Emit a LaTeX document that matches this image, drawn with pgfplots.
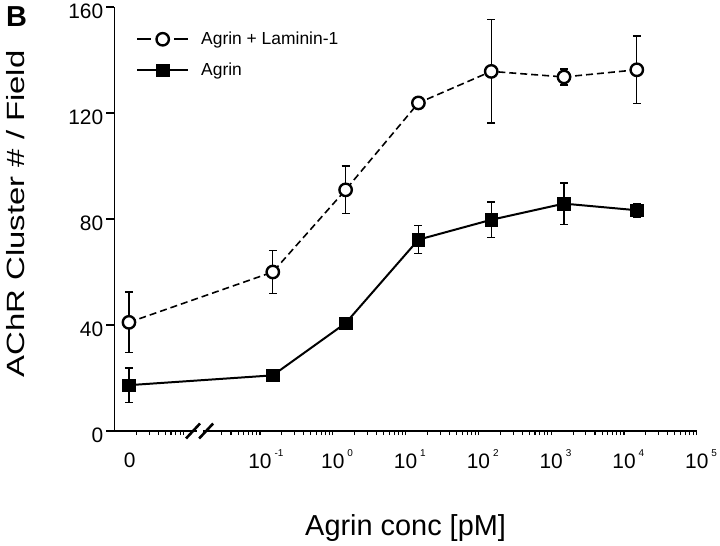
\documentclass[border=0pt]{standalone}
\usepackage{pgfplots}
\pgfplotsset{compat=1.18}
\usepackage{pgfplotstable}
\usepackage{fontspec}
\setmainfont{Liberation Sans}
\newfontfamily\widefont[FakeStretch=1.32]{Liberation Sans}
\newcommand{\tickfont}{\fontsize{21}{21}\selectfont}
\newcommand{\dec}[1]{\tickfont 10\rlap{\hspace{3bp}\raisebox{11.5bp}{\fontsize{10}{10}\selectfont #1}}}

\pgfplotsset{
  dashlegend/.style={legend image code/.code={\draw[mark repeat=2,mark phase=2,##1, dash pattern=on 14bp off 23bp] plot coordinates {(0bp,0bp) (25.5bp,0bp) (51bp,0bp)};}},
  solidlegend/.style={legend image code/.code={\draw[mark repeat=2,mark phase=2,##1] plot coordinates {(0bp,0bp) (25.5bp,0bp) (51bp,0bp)};}},
}

% x = log10(concentration in pM); the "0" concentration is drawn at -2.8
\pgfplotstableread{
x       y      e
-2.8    41.0   11.5
-0.824  60.0   8.0
0.176   91.0   9.0
1.176   123.8  1.5
2.176   135.7  19.5
3.176   133.6  3.0
4.176   136.3  12.7
}\laminin
\pgfplotstableread{
x       y      e
-2.8    17.3   6.5
-0.824  21.0   0.0
0.176   40.7   1.5
1.176   72.2   5.3
2.176   79.7   6.7
3.176   85.8   7.8
4.176   83.3   2.5
}\agrin

\begin{document}
\begin{tikzpicture}
\useasboundingbox (-114.4bp,-115bp) rectangle (605.6bp,431bp);
\begin{axis}[
  at={(0,0)}, anchor=south west,
  scale only axis, width=582.4bp, height=424bp,
  xmin=-3, xmax=5, ymin=0, ymax=160,
  axis x line*=bottom, axis y line*=left,
  axis line style={line width=1.4pt},
  clip=false,
  tick align=outside,
  major tick length=8bp, minor tick length=4bp,
  every tick/.style={black, line width=1.1pt},
  major x tick style={draw=none},
  xtick={-1,0,1,2,3,4,5},
  xticklabels={\dec{-1},\dec{0},\dec{1},\dec{2},\dec{3},\dec{4},\dec{5}},
  minor xtick={-2.699,-2.523,-2.398,-2.301,-2.222,-2.155,-2.097,-2.046,
    -1.523,-1.398,-1.301,-1.222,-1.155,-1.097,-1.046,
    -1,-0.699,-0.523,-0.398,-0.301,-0.222,-0.155,-0.097,-0.046,
    0,0.301,0.477,0.602,0.699,0.778,0.845,0.903,0.954,
    1,1.301,1.477,1.602,1.699,1.778,1.845,1.903,1.954,
    2,2.301,2.477,2.602,2.699,2.778,2.845,2.903,2.954,
    3,3.301,3.477,3.602,3.699,3.778,3.845,3.903,3.954,
    4,4.301,4.477,4.602,4.699,4.778,4.845,4.903,4.954,5},
  ytick={0,40,80,120,160},
  yticklabels={\tickfont 0,\tickfont 40,\tickfont 80,\tickfont 120,\tickfont 160},
  xticklabel style={font=\tickfont, anchor=base, yshift=-29bp},
  yticklabel style={font=\tickfont, inner sep=3bp, yshift=-4bp},
  xlabel={Agrin conc [pM]},
  xlabel style={at={(axis description cs:0.5,-0.2453)}, anchor=base, font=\fontsize{29}{29}\selectfont},
  ylabel={\widefont AChR Cluster \# / Field},
  ylabel style={at={(axis description cs:-0.169,0.512)}, anchor=center, font=\fontsize{25}{25}\selectfont},
  legend style={draw=none, fill=none, at={(axis description cs:0,1)}, anchor=north west,
    xshift=21.6bp, yshift=-25bp, inner sep=0pt, row sep=17bp, column sep=12bp,
    font=\fontsize{17.5}{17.5}\selectfont, nodes={inner sep=0pt}},
  legend cell align=left,
]
\addplot[black, line width=1.6pt, dash pattern=on 7bp off 4bp,
  mark=*, mark size=6.2bp, mark options={solid, fill=white, line width=2.4pt},
  dashlegend,
  error bars/.cd, y dir=both, y explicit,
  error bar style={solid, line width=1.3pt},
  error mark options={rotate=90, mark size=4bp, line width=1.3pt, solid}]
  table[x=x, y=y, y error=e] {\laminin};
\addlegendentry{Agrin + Laminin-1}
\addplot[black, line width=2pt, solid,
  mark=square*, mark size=6.3bp, mark options={solid, fill=black, line width=0.5pt},
  solidlegend,
  error bars/.cd, y dir=both, y explicit,
  error bar style={solid, line width=1.3pt},
  error mark options={rotate=90, mark size=4bp, line width=1.3pt, solid}]
  table[x=x, y=y, y error=e] {\agrin};
\addlegendentry{Agrin}
% tick label for the zero concentration (no tick mark there)
\node[anchor=base, inner sep=0pt, font=\tickfont] at ([yshift=-36bp]axis cs:-2.79,0) {0};
% axis break marks
\fill[white] ([xshift=-3bp,yshift=-2bp]axis cs:-1.83,0) rectangle ([xshift=3bp,yshift=2bp]axis cs:-1.83,0);
\draw[line width=2.6pt] ([xshift=-7bp,yshift=-7.5bp]axis cs:-1.92,0) -- ([xshift=7bp,yshift=7.5bp]axis cs:-1.92,0);
\draw[line width=2.6pt] ([xshift=-7bp,yshift=-7.5bp]axis cs:-1.74,0) -- ([xshift=7bp,yshift=7.5bp]axis cs:-1.74,0);
\end{axis}
\node[anchor=north west, inner sep=0pt, font=\bfseries\fontsize{29}{29}\selectfont] at (-108.4bp,425bp) {B};
\end{tikzpicture}
\end{document}
